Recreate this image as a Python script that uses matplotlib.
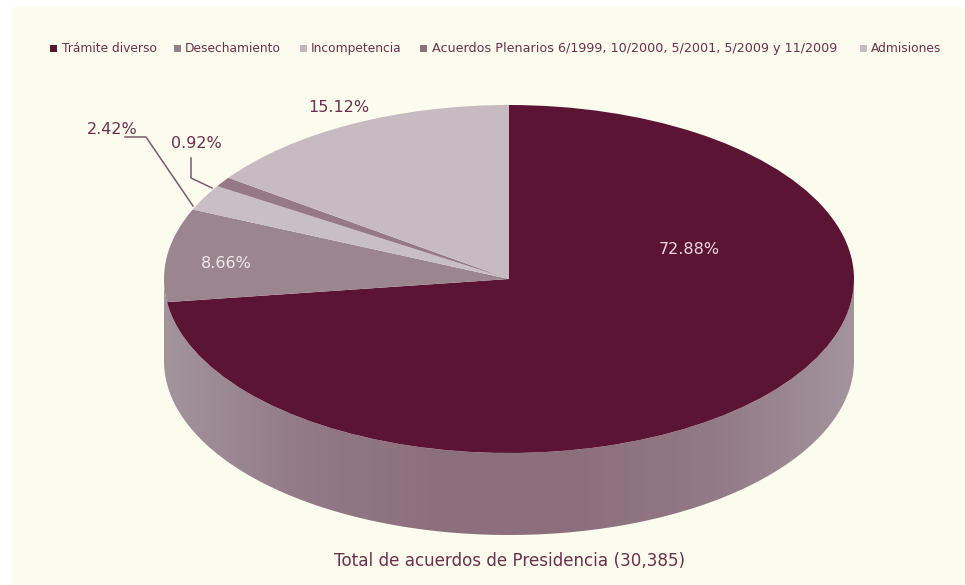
import matplotlib
matplotlib.use("Agg")
import matplotlib.pyplot as plt
import numpy as np
from matplotlib.colors import LinearSegmentedColormap
from matplotlib.patches import Polygon, Rectangle

categories = [
    "Trámite diverso",
    "Desechamiento",
    "Incompetencia",
    "Acuerdos Plenarios 6/1999, 10/2000, 5/2001, 5/2009 y 11/2009",
    "Admisiones",
]
values = [72.88, 8.66, 2.42, 0.92, 15.12]
colors = ["#5c1435", "#9b8690", "#c9bec3", "#957a86", "#c7bbc1"]
legend_colors = ["#5c1435", "#94808a", "#c3b5bb", "#8f6f7e", "#c7bac0"]
title = "Total de acuerdos de Presidencia (30,385)"

W, H = 965, 585
text_color = "#6d2f4c"
cx, cy, rx, ry, depth = 509, 279, 345, 174, 82

fig = plt.figure(figsize=(W / 100, H / 100), dpi=100, facecolor="white")

# back layer in pixel coordinates: cream panel and the side of the cylinder
back = fig.add_axes([0, 0, 1, 1], zorder=0)
back.set_xlim(0, W)
back.set_ylim(H, 0)
back.axis("off")
back.add_patch(Rectangle((11, 7), W - 11, H - 7, fc="#fbfbee", ec="none"))

t = np.linspace(0, np.pi, 300)
ex, ey = cx + rx * np.cos(t), cy + ry * np.sin(t)
side = Polygon(
    np.r_[np.c_[ex, ey], np.c_[ex[::-1], ey[::-1] + depth]], fc="none", ec="none"
)
back.add_patch(side)
side_cmap = LinearSegmentedColormap.from_list(
    "side", ["#a3949c", "#927a86", "#8c6f7d", "#8c6f7d", "#927a86", "#a3949c"]
)
grad = back.imshow(
    np.linspace(0, 1, 512).reshape(1, -1),
    extent=(cx - rx, cx + rx, cy + ry + depth, cy),
    cmap=side_cmap,
    aspect="auto",
    interpolation="bilinear",
    zorder=1,
)
grad.set_clip_path(side)
back.set_xlim(0, W)
back.set_ylim(H, 0)

# pie top squashed into an ellipse by the axes shape
ax = fig.add_axes(
    [(cx - rx) / W, (H - cy - ry) / H, 2 * rx / W, 2 * ry / H], zorder=1
)
ax.pie(
    values,
    colors=colors,
    startangle=90,
    counterclock=False,
    radius=1,
    wedgeprops={"linewidth": 0},
)
ax.set_aspect("auto")
ax.set_xlim(-1, 1)
ax.set_ylim(-1, 1)
ax.patch.set_alpha(0)

# front layer for text and leader lines
top = fig.add_axes([0, 0, 1, 1], zorder=2)
top.set_xlim(0, W)
top.set_ylim(H, 0)
top.axis("off")

# legend is spaced unevenly in the original, so it is placed by hand
square_x = [50, 174, 300, 420, 860]
text_x = [62, 185, 311, 432, 871]
legend_size = [8.8, 8.8, 8.8, 9.2, 8.8]
for c, sx, tx, col, fs in zip(categories, square_x, text_x, legend_colors, legend_size):
    top.add_patch(Rectangle((sx, 45), 7, 7, fc=col, ec="none"))
    top.text(tx, 52, c, color=text_color, fontsize=fs, va="baseline", ha="left")

labels = [f"{v:.2f}%" for v in values]
label_pos = [(689, 250), (226, 263), (112, 130), (196, 143), (339, 108)]
label_col = ["#e8dadf", "#eee8e6", text_color, text_color, text_color]
for lab, (x, y), col in zip(labels, label_pos, label_col):
    top.text(x, y, lab, color=col, fontsize=11.5, ha="center", va="center")

top.plot([125, 146, 193], [137, 137, 206], color="#7d5a6b", lw=1.1)
top.plot([191, 191, 212], [158, 178, 188], color="#7d5a6b", lw=1.1)

top.text(509, 561, title, color=text_color, fontsize=12.1, ha="center", va="center")

fig.savefig("out.png", dpi=100)
plt.close(fig)
